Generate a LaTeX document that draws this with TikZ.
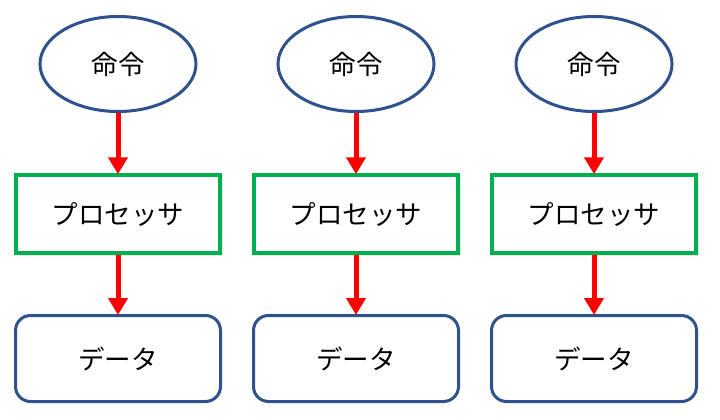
\documentclass[tikz,border=0pt]{standalone}
\usepackage{fontspec}
\newfontfamily\jp{Noto Sans CJK JP}
\usetikzlibrary{shapes.geometric,arrows.meta,shadows}
\definecolor{edgeblue}{HTML}{2F528F}
\definecolor{procgreen}{HTML}{00B050}
\definecolor{arrred}{HTML}{FF0000}
\begin{document}
\begin{tikzpicture}[x=1pt,y=-1pt,
  ell/.style={ellipse,draw=edgeblue,line width=3pt,fill=white,minimum width=156pt,minimum height=95pt,inner sep=0pt,font=\jp\fontsize{26.5}{30}\selectfont},
  procbox/.style={rectangle,draw=procgreen,line width=3.5pt,fill=white,minimum width=204pt,minimum height=78pt,inner sep=0pt,font=\jp\fontsize{26.5}{30}\selectfont,
    drop shadow={shadow xshift=2.5pt,shadow yshift=-2.5pt,fill=black!18}},
  databox/.style={rectangle,rounded corners=15pt,draw=edgeblue,line width=3pt,fill=white,minimum width=205pt,minimum height=86pt,inner sep=0pt,font=\jp\fontsize{26.5}{30}\selectfont},
  flow/.style={draw=arrred,line width=5pt,-{Triangle[length=17pt,width=19pt]},shorten >=-1pt}
]
\useasboundingbox (0,0) rectangle (720,420);
\foreach \i/\cx in {1/118,2/356,3/594}{
  \node[ell] (cmd\i) at (\cx,64) {命令};
  \node[procbox] (proc\i) at (\cx,214) {プロセッサ};
  \node[databox] (data\i) at (\cx,358.5) {データ};
  \draw[flow] (cmd\i.south) -- (proc\i.north);
  \draw[flow] (proc\i.south) -- (data\i.north);
}
\end{tikzpicture}
\end{document}
